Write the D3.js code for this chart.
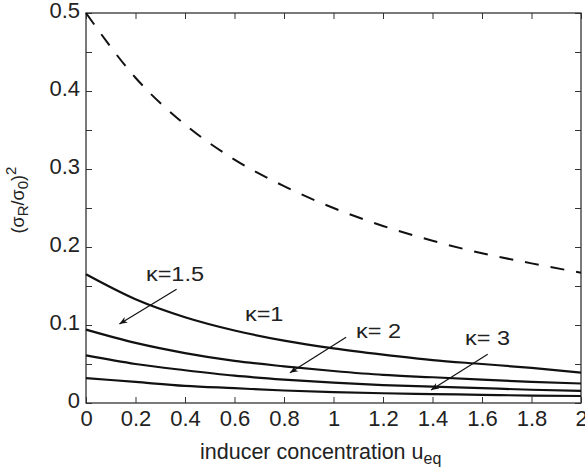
<!DOCTYPE html>
<html><head><meta charset="utf-8">
<script src="https://cdn.jsdelivr.net/npm/d3@7"></script>
<style>body{margin:0;background:#fff}svg{display:block}text{font-family:"Liberation Sans",Arial,sans-serif;fill:#222}</style>
</head><body>
<svg id="c" width="585" height="472"></svg>
<script>
const uVals = [0, 0.2, 0.4, 0.6, 0.8, 1.0, 1.2, 1.4, 1.6, 1.8, 2.0];
const dashedSeries = [0.5, 0.417, 0.357, 0.312, 0.278, 0.25, 0.227, 0.208, 0.192, 0.179, 0.167];
const kappa1 = [0.165, 0.133, 0.110, 0.093, 0.080, 0.070, 0.062, 0.055, 0.050, 0.045, 0.039];
const kappa15 = [0.094, 0.077, 0.064, 0.054, 0.047, 0.041, 0.036, 0.033, 0.030, 0.027, 0.025];
const kappa2 = [0.061, 0.050, 0.042, 0.035, 0.030, 0.026, 0.023, 0.021, 0.019, 0.017, 0.0155];
const kappa3 = [0.032, 0.027, 0.022, 0.019, 0.016, 0.014, 0.0125, 0.0115, 0.0105, 0.0095, 0.009];
const xTicks = [0, 0.2, 0.4, 0.6, 0.8, 1, 1.2, 1.4, 1.6, 1.8, 2];
const xTickLabels = ["0", "0.2", "0.4", "0.6", "0.8", "1", "1.2", "1.4", "1.6", "1.8", "2"];
const yTicks = [0, 0.05, 0.1, 0.15, 0.2, 0.25, 0.3, 0.35, 0.4, 0.45, 0.5];
const yTickLabels = ["0", "", "0.1", "", "0.2", "", "0.3", "", "0.4", "", "0.5"];
// annotations: label, text position, arrow start, arrow end (data units)
const annLabels = ["κ=1.5", "κ=1", "κ= 2", "κ= 3"];
const annText = [[0.242, 0.156], [0.642, 0.105], [1.091, 0.083], [1.531, 0.0744]];
const annArrows = [[[0.366, 0.1458], [0.135, 0.1013]], null, [[1.051, 0.0842], [0.824, 0.0388]], [[1.623, 0.0624], [1.394, 0.0167]]];

const svg = d3.select("#c");
const L = 86, R = 581, T = 13, B = 403;
const x = d3.scaleLinear().domain([0, 2]).range([L, R]);
const y = d3.scaleLinear().domain([0, 0.5]).range([B, T]);

svg.append("defs").append("marker").attr("id", "ah").attr("viewBox", "0 0 10 10")
  .attr("refX", 10).attr("refY", 5).attr("markerWidth", 11).attr("markerHeight", 8)
  .attr("markerUnits", "userSpaceOnUse").attr("orient", "auto")
  .append("path").attr("d", "M0,1 L10,5 L0,9 L3,5 Z").attr("fill", "#111");

// axes
const tickLen = 6;
const ax = svg.append("g").attr("transform", `translate(0,${B})`)
  .call(d3.axisBottom(x).tickValues(xTicks).tickSize(-tickLen).tickPadding(8).tickFormat((d, i) => xTickLabels[i]));
const axT = svg.append("g").attr("transform", `translate(0,${T})`)
  .call(d3.axisTop(x).tickValues(xTicks).tickSize(-tickLen).tickFormat(""));
const ay = svg.append("g").attr("transform", `translate(${L},0)`)
  .call(d3.axisLeft(y).tickValues(yTicks).tickSize(-tickLen).tickPadding(6).tickFormat((d, i) => yTickLabels[i]));
const ayR = svg.append("g").attr("transform", `translate(${R},0)`)
  .call(d3.axisRight(y).tickValues(yTicks).tickSize(-tickLen).tickFormat(""));
[ax, axT, ay, ayR].forEach(g => {
  g.select(".domain").remove();
  g.selectAll(".tick line").attr("stroke", "#333").attr("stroke-width", 1);
  g.selectAll(".tick text").attr("font-size", 22).attr("font-family", "Liberation Sans, Arial, sans-serif").attr("fill", "#222");
});
ay.selectAll(".tick text").attr("dy", "0.22em");
ax.selectAll(".tick text").attr("dy", "0.66em");
svg.append("rect").attr("x", L).attr("y", T).attr("width", R - L).attr("height", B - T)
  .attr("fill", "none").attr("stroke", "#333").attr("stroke-width", 1.3);

const line = d3.line().x((d, i) => x(uVals[i])).y(d => y(d)).curve(d3.curveMonotoneX);
svg.append("path").datum(dashedSeries).attr("d", line).attr("fill", "none")
  .attr("stroke", "#111").attr("stroke-width", 2).attr("stroke-dasharray", "14,12");
[kappa1, kappa15, kappa2, kappa3].forEach(s => {
  svg.append("path").datum(s).attr("d", line).attr("fill", "none")
    .attr("stroke", "#111").attr("stroke-width", 2.2);
});

annLabels.forEach((lab, i) => {
  const tx = x(annText[i][0]), ty = y(annText[i][1]);
  svg.append("text").attr("transform", `translate(${tx},${ty}) scale(1.12,1)`)
    .attr("font-size", 21).text(lab);
  const a = annArrows[i];
  if (a) {
    svg.append("line").attr("x1", x(a[0][0])).attr("y1", y(a[0][1]))
      .attr("x2", x(a[1][0])).attr("y2", y(a[1][1]))
      .attr("stroke", "#111").attr("stroke-width", 1.2).attr("marker-end", "url(#ah)");
  }
});

// axis titles
const xt = svg.append("text").attr("x", 200).attr("y", 459).attr("font-size", 21.5);
xt.append("tspan").text("inducer concentration u");
xt.append("tspan").attr("dy", 5).attr("font-size", 16).text("eq");

const yt = svg.append("text").attr("transform", "translate(24,200) rotate(-90)")
  .attr("text-anchor", "middle").attr("font-size", 18);
yt.append("tspan").text("(σ");
yt.append("tspan").attr("dy", 4).attr("font-size", 15).text("R");
yt.append("tspan").attr("dy", -4).text("/σ");
yt.append("tspan").attr("dy", 4).attr("font-size", 15).text("0");
yt.append("tspan").attr("dy", -4).text(")");
yt.append("tspan").attr("dy", -8).attr("font-size", 15).text("2");
</script>
</body></html>
